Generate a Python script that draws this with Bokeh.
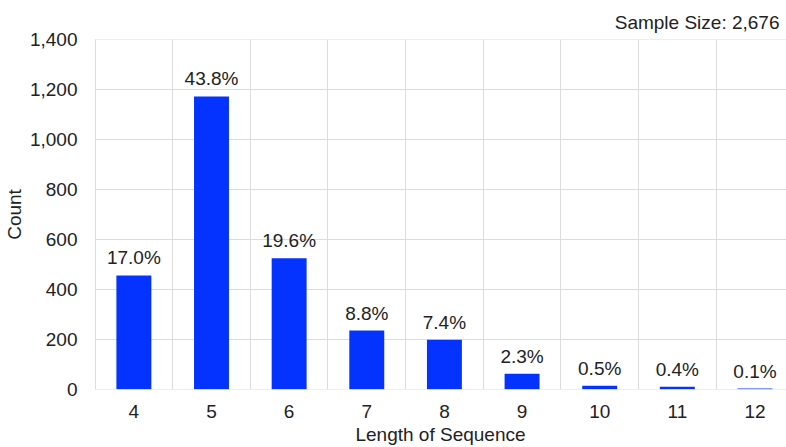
from bokeh.plotting import figure
from bokeh.models import Range1d, FixedTicker, NumeralTickFormatter, ColumnDataSource, LabelSet
from bokeh.core.properties import value
from bokeh.embed import file_html
from bokeh.resources import INLINE

# ---- data ----
sample_size_label = "Sample Size: 2,676"
lengths = [4, 5, 6, 7, 8, 9, 10, 11, 12]
counts = [456, 1173, 525, 235, 198, 62, 14, 10, 3]
pct_labels = ["17.0%", "43.8%", "19.6%", "8.8%", "7.4%", "2.3%", "0.5%", "0.4%", "0.1%"]
y_ticks = [0, 200, 400, 600, 800, 1000, 1200, 1400]
x_label = "Length of Sequence"
y_label = "Count"

FONT = "Liberation Sans"
TXT = "#222222"
BLUE = "#0433FF"
GRID = "#dddddd"
FS = "19px"

src = ColumnDataSource(dict(x=lengths, count=counts, label=pct_labels))

p = figure(width=786, height=447, output_backend="svg", toolbar_location=None,
           x_range=Range1d(3.493, 12.406), y_range=Range1d(-1, 1401),
           min_border_left=94, min_border_right=0, min_border_top=39, min_border_bottom=58)
p.outline_line_color = None
p.background_fill_color = "white"
p.border_fill_color = "white"

p.vbar(x="x", top="count", bottom=0, width=0.45, source=src,
       fill_color=BLUE, line_color=None)

labels = LabelSet(x="x", y="count", text="label", source=src,
                  text_align="center", text_baseline="alphabetic", y_offset=11,
                  text_font_size=value(FS), text_font=value(FONT), text_color=TXT)
p.add_layout(labels)

# grids
bounds = [l - 0.5 for l in lengths] + [lengths[-1] + 0.5]
p.xgrid.ticker = FixedTicker(ticks=bounds)
p.ygrid.ticker = FixedTicker(ticks=y_ticks)
for g in (p.xgrid, p.ygrid):
    g.grid_line_color = GRID
    g.grid_line_width = 1

# axes
p.xaxis.ticker = FixedTicker(ticks=lengths)
p.yaxis.ticker = FixedTicker(ticks=y_ticks)
p.yaxis.formatter = NumeralTickFormatter(format="0,0")
for ax in (p.xaxis, p.yaxis):
    ax.axis_line_color = None
    ax.major_tick_line_color = None
    ax.minor_tick_line_color = None
    ax.major_tick_out = 0
    ax.major_tick_in = 0
    ax.minor_tick_out = 0
    ax.major_label_text_font = FONT
    ax.major_label_text_font_size = FS
    ax.major_label_text_color = TXT
    ax.axis_label_text_font = FONT
    ax.axis_label_text_font_size = FS
    ax.axis_label_text_font_style = "normal"
    ax.axis_label_text_color = TXT
p.xaxis.axis_label = x_label
p.yaxis.axis_label = y_label
p.yaxis.major_label_standoff = 17
p.yaxis.axis_label_standoff = 2
p.xaxis.major_label_standoff = 15
p.xaxis.axis_label_standoff = 3

p.title.text = sample_size_label
p.title.align = "right"
p.title.text_font = FONT
p.title.text_font_size = FS
p.title.text_font_style = "normal"
p.title.text_color = TXT
p.title.offset = 7
p.title.standoff = 14

open("out.html", "w").write(file_html(p, INLINE))
